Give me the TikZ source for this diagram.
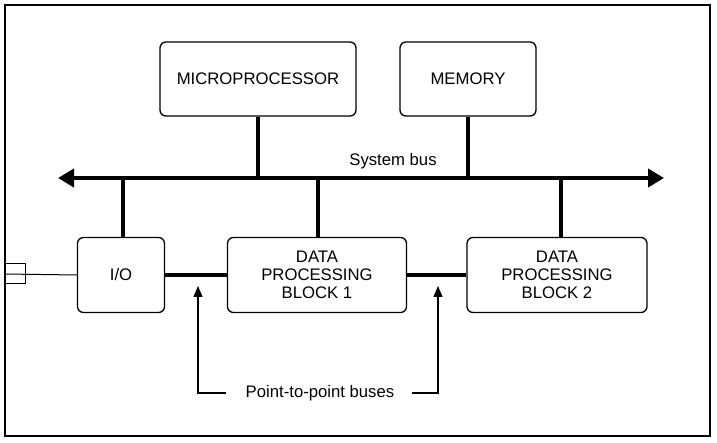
\documentclass[tikz,border=0pt]{standalone}
\usepackage{fontspec}
\setmainfont{Liberation Sans}
\usetikzlibrary{arrows.meta,positioning,calc}

\tikzset{
  block/.style={draw, line width=1.3pt, rounded corners=6pt, align=center, inner sep=0pt},
  sysbus/.style={line width=4pt, {Triangle[length=16pt,width=18pt]}-{Triangle[length=16pt,width=18pt]}},
  tap/.style={line width=3.5pt},
  pointer/.style={line width=1.2pt, -{Triangle[length=11pt,width=9pt]}}
}

\begin{document}
\begin{tikzpicture}[x=1pt, y=-1pt, every node/.style={font=\fontsize{16.7}{18}\selectfont}]
  \useasboundingbox (0,0) rectangle (717,443);
  \draw[line width=1.6pt] (5,5) rectangle (710,436);

  % top row
  \node[block, minimum width=196pt, minimum height=74pt] (micro) at (258,79) {MICROPROCESSOR};
  \node[block, minimum width=136pt, minimum height=74pt] (mem) at (468,79) {MEMORY};

  % bottom row
  \node[block, minimum width=87pt, minimum height=75pt] (io) at (121,275) {I/O};
  \node[block, minimum width=179pt, minimum height=75pt] (dpa) at (317,275) {DATA\\PROCESSING\\BLOCK 1};
  \node[block, minimum width=180pt, minimum height=75pt] (dpb) at (557,275) {DATA\\PROCESSING\\BLOCK 2};

  % system bus
  \coordinate (busl) at (58,178);
  \coordinate (busr) at (664,178);
  \draw[sysbus] (busl) -- (busr);
  \node (buslabel) at (393,161) {System bus};
  \draw[tap] (micro.south) -- (micro.south |- busl);
  \draw[tap] (mem.south) -- (mem.south |- busl);
  \draw[tap] ([xshift=2pt]io.north) -- ([xshift=2pt]io.north |- busl);
  \draw[tap] ([xshift=1pt]dpa.north) -- ([xshift=1pt]dpa.north |- busl);
  \draw[tap] ([xshift=4pt]dpb.north) -- ([xshift=4pt]dpb.north |- busl);

  % point-to-point buses
  \draw[tap] (io.east) -- (dpa.west);
  \draw[tap] (dpa.east) -- (dpb.west);
  \node (p2p) at (320,393) {Point-to-point buses};
  \coordinate (pa) at (198,286);
  \coordinate (pb) at (438,286);
  \draw[pointer] ([xshift=-16pt]p2p.west) -| (pa);
  \draw[pointer] ([xshift=14pt]p2p.east) -| (pb);

  % external connector
  \node[draw, line width=1pt, minimum width=20pt, minimum height=20pt, inner sep=0pt] (plug) at (15,274) {};
  \draw[line width=1pt] (plug.west) -- (io.west);
\end{tikzpicture}
\end{document}
